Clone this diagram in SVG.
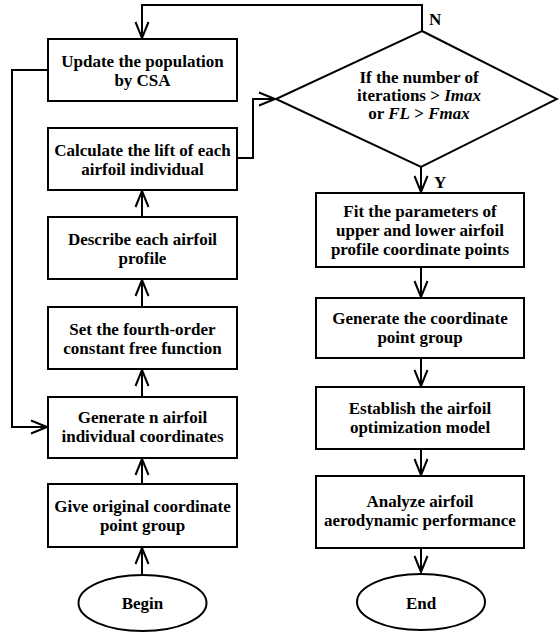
<svg xmlns="http://www.w3.org/2000/svg" width="559" height="632" viewBox="0 0 559 632">
<style>
.box{fill:#fff;stroke:#000;stroke-width:2}
.ln{fill:none;stroke:#000;stroke-width:2}
.arr{fill:none;stroke:#000;stroke-width:2;marker-end:url(#ah)}
text{font-family:"Liberation Serif","Times New Roman",serif;font-weight:bold;font-size:17px;fill:#000;text-anchor:middle}
.lbl{text-anchor:start}
.it{font-style:italic}
</style>
<defs>
<marker id="ah" markerUnits="userSpaceOnUse" viewBox="-18 -8 20 16" refX="0" refY="0" markerWidth="20" markerHeight="16" orient="auto" overflow="visible">
<path d="M-16,-6.5 L0,0 L-16,6.5" fill="none" stroke="#000" stroke-width="2"/>
</marker>
</defs>
<rect width="559" height="632" fill="#fff"/>
<g id="connectors">
<path class="arr" d="M422,31 L422,5 L142,5 L142,38"/>
<path class="arr" d="M48,70 L12,70 L12,427 L47,427"/>
<path class="arr" d="M237,158 L253,158 L253,99 L275,99"/>
<path class="arr" d="M142,575 L142,548"/>
<path class="arr" d="M142,484 L142,459"/>
<path class="arr" d="M142,397 L142,370"/>
<path class="arr" d="M142,307 L142,280"/>
<path class="arr" d="M142,217 L142,191"/>
<path class="arr" d="M421,167 L421,192"/>
<path class="arr" d="M421,267 L421,297"/>
<path class="arr" d="M421,358 L421,386"/>
<path class="arr" d="M421,449 L421,475"/>
<path class="arr" d="M421,548 L421,572"/>
<text class="lbl" x="429" y="25">N</text>
<text class="lbl" x="434" y="188">Y</text>
</g>
<g id="update">
<rect class="box" x="48" y="39" width="189" height="62"/>
<text x="142.5" y="67">Update the population</text>
<text x="142.5" y="86">by CSA</text>
</g>
<g id="calculate">
<rect class="box" x="48" y="128" width="189" height="62"/>
<text x="142.5" y="156">Calculate the lift of each</text>
<text x="142.5" y="175">airfoil individual</text>
</g>
<g id="describe">
<rect class="box" x="48" y="217" width="189" height="62"/>
<text x="142.5" y="245">Describe each airfoil</text>
<text x="142.5" y="264">profile</text>
</g>
<g id="setfunc">
<rect class="box" x="48" y="307" width="189" height="62"/>
<text x="142.5" y="335">Set the fourth-order</text>
<text x="142.5" y="354">constant free function</text>
</g>
<g id="generaten">
<rect class="box" x="48" y="397" width="189" height="61"/>
<text x="142.5" y="423">Generate n airfoil</text>
<text x="142.5" y="442">individual coordinates</text>
</g>
<g id="give">
<rect class="box" x="48" y="484" width="189" height="63"/>
<text x="142.5" y="512">Give original coordinate</text>
<text x="142.5" y="531">point group</text>
</g>
<g id="begin">
<ellipse class="box" cx="142.5" cy="603" rx="64" ry="28"/>
<text x="142.5" y="609">Begin</text>
</g>
<g id="decision">
<polygon class="box" points="422,31 557,99 421,167 276,99"/>
<text x="419" y="83">If the number of</text>
<text x="419" y="101">iterations &gt; <tspan class="it">Imax</tspan></text>
<text x="419" y="119">or <tspan class="it">FL</tspan> &gt; <tspan class="it">Fmax</tspan></text>
</g>
<g id="fit">
<rect class="box" x="316" y="193" width="208" height="74"/>
<text x="420" y="217">Fit the parameters of</text>
<text x="420" y="236">upper and lower airfoil</text>
<text x="420" y="255">profile coordinate points</text>
</g>
<g id="generate">
<rect class="box" x="316" y="298" width="208" height="60"/>
<text x="420" y="324">Generate the coordinate</text>
<text x="420" y="343">point group</text>
</g>
<g id="establish">
<rect class="box" x="316" y="387" width="208" height="62"/>
<text x="420" y="414">Establish the airfoil</text>
<text x="420" y="433">optimization model</text>
</g>
<g id="analyze">
<rect class="box" x="316" y="476" width="208" height="72"/>
<text x="420" y="507">Analyze airfoil</text>
<text x="420" y="526">aerodynamic performance</text>
</g>
<g id="end">
<ellipse class="box" cx="421" cy="602" rx="64" ry="28"/>
<text x="421" y="609">End</text>
</g>
</svg>
